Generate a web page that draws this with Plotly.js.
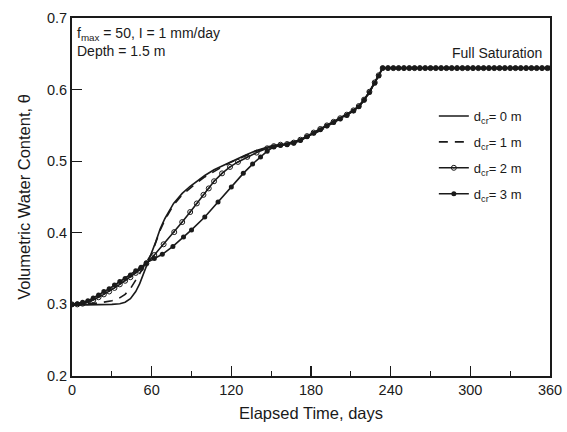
<!DOCTYPE html>
<html>
<head>
<meta charset="utf-8">
<script src="https://cdn.plot.ly/plotly-3.0.1.min.js"></script>
<style>html,body{margin:0;padding:0;background:#fff;}#chart{width:567px;height:432px;}</style>
</head>
<body>
<div id="chart"></div>
<script>
// ---- data ----
var days0 = [0, 10, 20, 30, 36, 40, 44, 48, 51, 54, 57, 60, 63, 66.5, 70, 76.5, 83, 89, 94, 100, 107, 114, 120, 130, 139, 151, 160, 170, 180, 190, 200, 210, 216, 220, 224, 228, 231, 234, 360];
var theta0 = [0.299, 0.299, 0.299, 0.300, 0.301, 0.303, 0.308, 0.318, 0.329, 0.343, 0.358, 0.372, 0.387, 0.406, 0.420, 0.441, 0.455, 0.465, 0.472, 0.480, 0.488, 0.494, 0.500, 0.508, 0.515, 0.522, 0.524, 0.529, 0.537, 0.547, 0.558, 0.569, 0.577, 0.586, 0.597, 0.610, 0.620, 0.630, 0.630];

var days1 = [0, 10, 20, 30, 35, 40, 44, 48, 52, 56, 60, 63, 66.5, 70, 76.5, 83, 89, 94, 100, 107, 114, 120, 130, 139, 151, 160, 170, 180, 190, 200, 210, 216, 220, 224, 228, 231, 234, 360];
var theta1 = [0.299, 0.300, 0.302, 0.305, 0.308, 0.314, 0.322, 0.334, 0.346, 0.358, 0.371, 0.386, 0.404, 0.418, 0.439, 0.453, 0.463, 0.470, 0.478, 0.486, 0.493, 0.499, 0.507, 0.514, 0.521, 0.523, 0.528, 0.536, 0.546, 0.557, 0.568, 0.576, 0.585, 0.596, 0.609, 0.619, 0.630, 0.630];

var days2 = [0, 4, 8, 12, 16, 20, 24, 28, 32, 36, 40, 44, 48, 52, 56, 62, 69, 77, 83, 89, 94, 99, 103, 107, 113, 119, 125, 132, 139, 147, 152, 157, 162, 167, 172, 177, 182, 187, 192, 197, 202, 207, 212, 216, 220, 224, 228, 231, 234, 238, 242, 246, 250, 254, 258, 262, 266, 270, 274, 278, 282, 286, 290, 294, 298, 302, 306, 310, 314, 318, 322, 326, 330, 334, 338, 342, 346, 350, 354, 358];
var theta2 = [0.300, 0.300, 0.301, 0.303, 0.306, 0.310, 0.314, 0.318, 0.323, 0.328, 0.333, 0.338, 0.344, 0.350, 0.357, 0.369, 0.384, 0.401, 0.415, 0.429, 0.441, 0.453, 0.462, 0.472, 0.483, 0.492, 0.499, 0.506, 0.512, 0.518, 0.521, 0.523, 0.524, 0.526, 0.530, 0.535, 0.540, 0.545, 0.550, 0.555, 0.560, 0.565, 0.571, 0.577, 0.586, 0.597, 0.610, 0.620, 0.630, 0.630, 0.630, 0.630, 0.630, 0.630, 0.630, 0.630, 0.630, 0.630, 0.630, 0.630, 0.630, 0.630, 0.630, 0.630, 0.630, 0.630, 0.630, 0.630, 0.630, 0.630, 0.630, 0.630, 0.630, 0.630, 0.630, 0.630, 0.630, 0.630, 0.630, 0.630];

var days3 = [0, 4, 8, 12, 16, 20, 24, 28, 32, 36, 40, 44, 48, 52, 56, 62, 68, 76, 84, 90, 100, 110, 120, 129, 136, 142, 147, 152, 157, 162, 167, 172, 177, 182, 187, 192, 197, 202, 207, 212, 216, 220, 224, 228, 231, 234, 238, 242, 246, 250, 254, 258, 262, 266, 270, 274, 278, 282, 286, 290, 294, 298, 302, 306, 310, 314, 318, 322, 326, 330, 334, 338, 342, 346, 350, 354, 358, 360];
var theta3 = [0.300, 0.301, 0.303, 0.305, 0.309, 0.313, 0.318, 0.322, 0.327, 0.332, 0.336, 0.341, 0.347, 0.352, 0.358, 0.364, 0.370, 0.381, 0.394, 0.404, 0.422, 0.443, 0.464, 0.483, 0.496, 0.506, 0.514, 0.520, 0.522, 0.523, 0.525, 0.529, 0.534, 0.539, 0.544, 0.549, 0.554, 0.559, 0.564, 0.570, 0.576, 0.585, 0.596, 0.609, 0.619, 0.630, 0.630, 0.630, 0.630, 0.630, 0.630, 0.630, 0.630, 0.630, 0.630, 0.630, 0.630, 0.630, 0.630, 0.630, 0.630, 0.630, 0.630, 0.630, 0.630, 0.630, 0.630, 0.630, 0.630, 0.630, 0.630, 0.630, 0.630, 0.630, 0.630, 0.630, 0.630, 0.630];

var seriesNames = ['d<sub>cr</sub>= 0 m', 'd<sub>cr</sub>= 1 m', 'd<sub>cr</sub>= 2 m', 'd<sub>cr</sub>= 3 m'];
var xTicks = [0, 60, 120, 180, 240, 300, 360];
var yTicks = [0.2, 0.3, 0.4, 0.5, 0.6, 0.7];

var font = 'Liberation Sans, Arial, sans-serif';
var black = '#1a1a1a';

var traces = [
  {x: days0, y: theta0, name: seriesNames[0], mode: 'lines', legendgroup: 'a',
   line: {color: black, width: 1.6}},
  {x: days1, y: theta1, name: seriesNames[1], mode: 'lines', legendgroup: 'b',
   line: {color: black, width: 1.6, dash: '9px,7px'}},
  {x: days2, y: theta2, name: seriesNames[2], mode: 'lines+markers', legendgroup: 'c',
   line: {color: black, width: 1.6},
   marker: {symbol: 'circle-open-dot', size: 5, color: black, line: {color: black, width: 1}}},
  {x: days3, y: theta3, name: seriesNames[3], mode: 'lines+markers', legendgroup: 'd',
   line: {color: black, width: 1.6},
   marker: {symbol: 'circle', size: 5, color: black}}
];

var layout = {
  width: 567, height: 432,
  margin: {l: 71.5, r: 16.5, t: 18, b: 56.3},
  paper_bgcolor: '#fff', plot_bgcolor: '#fff',
  font: {family: font, size: 14, color: black},
  showlegend: true,
  legend: {x: 0.757, y: 0.768, xanchor: 'left', yanchor: 'top',
           bgcolor: 'rgba(0,0,0,0)', font: {family: font, size: 13, color: black},
           tracegroupgap: 6},
  xaxis: {
    range: [0, 360], tickvals: xTicks, ticktext: xTicks.map(String),
    ticks: 'inside', ticklen: 10, tickwidth: 1.3, tickcolor: black,
    minor: {dtick: 30, tick0: 0, ticks: 'inside', ticklen: 5, tickwidth: 1.3, tickcolor: black},
    showline: true, linewidth: 2, linecolor: black, mirror: true,
    showgrid: false, zeroline: false,
    tickfont: {size: 14.5, family: font},
    title: {text: 'Elapsed Time, days', font: {size: 16.5, family: font}, standoff: 10}
  },
  yaxis: {
    range: [0.2, 0.7], tickvals: yTicks, ticktext: yTicks.map(function(v){return v.toFixed(1);}),
    ticks: 'inside', ticklen: 10, tickwidth: 1.3, tickcolor: black,
    showline: true, linewidth: 2, linecolor: black, mirror: true,
    showgrid: false, zeroline: false,
    tickfont: {size: 14.5, family: font},
    title: {text: 'Volumetric Water Content, θ', font: {size: 16.5, family: font}, standoff: 12}
  },
  annotations: [
    {xref: 'paper', yref: 'paper', x: 0, y: 1, xanchor: 'left', yanchor: 'top',
     xshift: 3, yshift: -5, align: 'left', showarrow: false,
     text: 'f<sub>max</sub> = 50, I = 1 mm/day<br>Depth = 1.5 m',
     font: {size: 14, family: font, color: black}},
    {xref: 'paper', yref: 'paper', x: 1, y: 0.903, xanchor: 'right', yanchor: 'middle',
     xshift: -6, showarrow: false, text: 'Full Saturation',
     font: {size: 14, family: font, color: black}}
  ]
};

Plotly.newPlot('chart', traces, layout, {displayModeBar: false, staticPlot: true});
</script>
</body>
</html>
